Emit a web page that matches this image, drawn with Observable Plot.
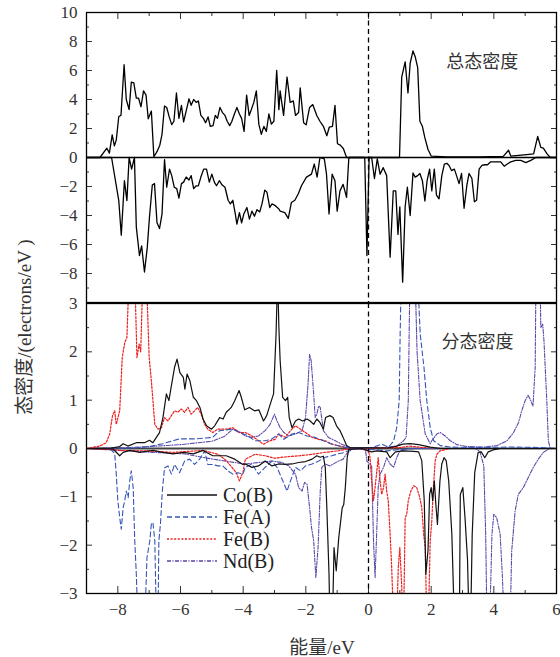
<!DOCTYPE html>
<html><head><meta charset="utf-8">
<script src="https://cdn.jsdelivr.net/npm/d3@7"></script>
<script src="https://cdn.jsdelivr.net/npm/@observablehq/plot@0.6"></script>
<style>
body{margin:0;background:#fff;}
#wrap{position:relative;width:560px;height:657px;font-family:"Liberation Serif","Noto Sans CJK SC",serif;color:#333;overflow:hidden}
#top,#bot{position:absolute;left:0}
#top{top:0}
#bot{top:290px}
#ylab{position:absolute;left:22px;top:327px;transform:translate(-50%,-50%) rotate(-90deg);white-space:nowrap;font-size:19px;color:#333;font-family:"Liberation Serif","Noto Sans CJK SC",serif}
#xlab{position:absolute;left:322px;top:645px;transform:translate(-50%,-50%);white-space:nowrap;font-size:19px;color:#333;font-family:"Liberation Serif","Noto Sans CJK SC",serif}
#legend{position:absolute;left:166px;top:484px;font-size:20px;color:#222;font-family:"Liberation Serif",serif}
.lg{display:flex;align-items:center;height:22px}
.lg svg{margin-right:5px}
svg.plot{background:transparent !important}
</style></head>
<body><div id="wrap"><div id="top"></div><div id="bot"></div><div id="ylab"></div><div id="xlab"></div><div id="legend"></div></div>
<script>
// ---- text ----
const yLabelText = "态密度/(electrons/eV )";
const xLabelText = "能量/eV";
const topNote = {text: "总态密度", x: 3.63, y: 6.55};
const botNote = {text: "分态密度", x: 3.48, y: 2.19};

// ---- ticks ----
const xTicks = [-8, -6, -4, -2, 0, 2, 4, 6];
const xMinor = [-9, -7, -5, -3, -1, 1, 3, 5];
const topYLabels = [10, 8, 6, 4, 2, 0, -2, -4, -6, -8];
const topYMajor = [-10, -8, -6, -4, -2, 0, 2, 4, 6, 8, 10];
const topYMinor = [-9, -7, -5, -3, -1, 1, 3, 5, 7, 9];
const botYLabels = [3, 2, 1, 0, -1, -2, -3];
const botYMajor = [-3, -2, -1, 0, 1, 2, 3];
const botYMinor = [-2.5, -1.5, -0.5, 0.5, 1.5, 2.5];

// ---- total DOS (energy eV, states) ----
const totUp = [[-9,0],[-8.57,0],[-8.35,0.64],[-8.27,0.3],[-8.18,1.56],[-8.11,0.8],[-8.05,1.2],[-7.97,2.83],[-7.9,2.9],[-7.8,6.4],[-7.73,4.0],[-7.64,3.3],[-7.57,5.2],[-7.49,5.15],[-7.41,4.1],[-7.34,4.1],[-7.26,3.5],[-7.18,4.6],[-7.1,4.3],[-7.03,2.67],[-6.93,3.2],[-6.85,0.05],[-6.75,0.4],[-6.66,0.85],[-6.59,1.6],[-6.51,3.55],[-6.44,3.45],[-6.36,2.8],[-6.28,2.27],[-6.21,2.5],[-6.13,4.45],[-6.05,2.7],[-5.97,3.6],[-5.9,2.45],[-5.82,3.2],[-5.73,4.05],[-5.66,3.6],[-5.58,4.0],[-5.5,3.8],[-5.43,3.9],[-5.35,2.9],[-5.27,2.7],[-5.2,2.4],[-5.12,2.8],[-5.05,2.15],[-4.96,2.2],[-4.89,2.9],[-4.82,2.7],[-4.74,3.45],[-4.66,3.1],[-4.58,2.9],[-4.51,2.5],[-4.43,2.2],[-4.36,2.5],[-4.28,3.0],[-4.2,3.45],[-4.12,3.0],[-4.05,2.7],[-3.97,1.8],[-3.89,4.3],[-3.81,2.9],[-3.74,3.3],[-3.66,3.8],[-3.58,4.6],[-3.5,2.3],[-3.42,1.6],[-3.34,2.15],[-3.26,1.8],[-3.18,3.0],[-3.1,2.3],[-3.02,2.5],[-2.93,6.0],[-2.86,3.3],[-2.82,4.6],[-2.71,2.9],[-2.6,5.55],[-2.5,3.8],[-2.4,3.9],[-2.33,2.9],[-2.23,3.1],[-2.18,4.8],[-2.07,2.4],[-1.99,2.25],[-1.88,3.45],[-1.78,3.65],[-1.65,2.9],[-1.55,2.5],[-1.44,2.15],[-1.33,1.5],[-1.25,2.1],[-1.15,2.15],[-1.07,3.6],[-0.99,0.95],[-0.9,0.85],[-0.8,0.6],[-0.7,0],[0.99,0],[1.06,5.55],[1.17,6.6],[1.26,4.45],[1.33,6.5],[1.42,7.35],[1.49,6.95],[1.57,6.2],[1.64,2.5],[1.72,2.15],[1.8,1.35],[1.9,0.55],[2.0,0.1],[2.5,0.05],[3.5,0.05],[4.3,0.08],[4.47,0.5],[4.54,0.1],[5.05,0.2],[5.27,0.25],[5.4,1.45],[5.5,0.7],[5.58,0.65],[5.7,0.25],[5.8,0],[6,0]];
const totDn = [[-9,0],[-8.2,0],[-7.97,-2.97],[-7.89,-5.36],[-7.79,-1.6],[-7.71,-2.97],[-7.64,0],[-7.56,-0.8],[-7.47,0],[-7.41,-4.8],[-7.31,-6.76],[-7.24,-6.1],[-7.15,-7.9],[-7.06,-6.2],[-6.99,-4.1],[-6.9,-1.9],[-6.83,-1.8],[-6.75,-4.5],[-6.67,-4.9],[-6.59,-3.9],[-6.51,-0.15],[-6.44,-2.05],[-6.35,-0.8],[-6.28,-1.25],[-6.2,-2.05],[-6.12,-2.15],[-6.05,-2.8],[-5.97,-1.8],[-5.9,-1.7],[-5.82,-1.35],[-5.73,-1.55],[-5.66,-1.25],[-5.58,-2.15],[-5.5,-1.95],[-5.43,-1.95],[-5.35,-1.35],[-5.26,-0.8],[-5.17,-0.8],[-5.08,-1.7],[-5.0,-1.15],[-4.92,-1.7],[-4.85,-1.95],[-4.76,-1.6],[-4.67,-1.9],[-4.58,-2.05],[-4.48,-2.95],[-4.41,-3.2],[-4.33,-2.95],[-4.25,-3.9],[-4.2,-4.6],[-4.12,-3.8],[-4.05,-4.5],[-3.98,-3.9],[-3.88,-3.45],[-3.8,-4.25],[-3.72,-3.7],[-3.64,-4.05],[-3.56,-3.6],[-3.47,-3.75],[-3.4,-3.2],[-3.31,-2.25],[-3.24,-2.4],[-3.15,-3.45],[-3.08,-3.2],[-2.99,-3.3],[-2.86,-3.55],[-2.82,-3.7],[-2.67,-3.8],[-2.56,-4.2],[-2.46,-3.1],[-2.35,-2.95],[-2.24,-2.5],[-2.14,-1.95],[-1.98,-1.35],[-1.82,-1.15],[-1.73,-0.45],[-1.64,-1.35],[-1.55,0],[-1.41,-0.1],[-1.34,-1.15],[-1.26,-3.9],[-1.16,-1.15],[-1.07,-1.6],[-1.0,-3.7],[-0.91,-2.3],[-0.81,-1.85],[-0.7,-2.75],[-0.63,-0.1],[-0.6,0],[-0.12,0],[-0.05,-6.76],[0.02,0],[0.1,0],[0.19,-1.45],[0.28,-0.1],[0.37,-1.15],[0.47,-0.7],[0.58,-1.25],[0.69,-6.87],[0.79,-2.3],[0.87,-2.3],[0.94,-5.3],[1.0,-3.4],[1.09,-8.6],[1.17,-3.4],[1.24,-2.05],[1.33,-4.0],[1.42,-1.07],[1.49,-1.35],[1.57,-1.25],[1.64,-1.1],[1.72,-1.6],[1.8,-3.0],[1.87,-1.6],[1.95,-0.8],[2.02,-2.3],[2.1,-0.8],[2.17,-2.6],[2.25,-2.85],[2.34,-1.25],[2.42,-0.45],[2.5,-0.4],[2.57,-0.55],[2.65,-0.9],[2.74,-0.8],[2.81,-1.25],[2.89,-1.8],[2.97,-1.1],[3.05,-3.5],[3.14,-1.9],[3.21,-1.1],[3.3,-1.45],[3.38,-3.05],[3.45,-2.95],[3.53,-0.8],[3.62,-0.55],[3.71,-0.5],[3.8,-0.5],[3.9,-0.3],[4.06,-0.3],[4.22,-0.3],[4.33,-0.6],[4.43,-0.45],[4.54,-0.3],[4.7,-0.2],[4.86,-0.2],[5.02,-0.35],[5.18,-0.2],[5.34,0],[6,0]];

// ---- partial DOS ----
const coUp = [[-9,0],[-8.2,0.01],[-7.94,0.04],[-7.83,0.1],[-7.68,0.05],[-7.41,0.12],[-7.15,0.12],[-6.99,0.17],[-6.88,0.12],[-6.77,0.23],[-6.67,0.33],[-6.56,0.64],[-6.45,1.13],[-6.37,0.99],[-6.29,1.3],[-6.19,1.68],[-6.11,1.85],[-6.02,1.57],[-5.91,1.47],[-5.86,1.23],[-5.79,1.54],[-5.7,1.4],[-5.59,1.06],[-5.49,0.99],[-5.38,0.85],[-5.28,0.61],[-5.17,0.47],[-5.01,0.4],[-4.91,0.47],[-4.75,0.64],[-4.64,0.61],[-4.54,0.75],[-4.38,0.85],[-4.27,0.99],[-4.13,1.2],[-4.06,1.06],[-3.95,0.8],[-3.8,0.85],[-3.64,0.78],[-3.5,0.8],[-3.35,0.57],[-3.25,0.68],[-3.1,0.99],[-3.03,1.13],[-2.95,2.37],[-2.9,3.6],[-2.86,2.5],[-2.82,1.82],[-2.74,1.06],[-2.65,0.99],[-2.58,1.06],[-2.53,0.64],[-2.44,0.43],[-2.33,0.57],[-2.23,0.61],[-2.1,0.57],[-1.96,0.61],[-1.86,0.57],[-1.75,0.5],[-1.65,0.61],[-1.55,0.54],[-1.44,0.4],[-1.37,0.64],[-1.23,0.68],[-1.13,0.64],[-1.02,0.47],[-0.91,0.37],[-0.81,0.23],[-0.7,0.06],[-0.6,0.02],[0.6,0.01],[0.9,0.05],[1.1,0.09],[1.33,0.1],[1.6,0.08],[1.97,0.03],[2.3,0],[6,0]];
const coDn = [[-9,0],[-8.15,-0.01],[-7.94,-0.15],[-7.83,-0.08],[-7.62,-0.04],[-7.3,-0.08],[-6.88,-0.04],[-6.56,-0.08],[-6.24,-0.11],[-5.91,-0.08],[-5.59,-0.11],[-5.28,-0.04],[-4.97,-0.15],[-4.54,-0.15],[-4.27,-0.22],[-4.01,-0.33],[-3.93,-0.32],[-3.72,-0.39],[-3.51,-0.36],[-3.3,-0.26],[-3.08,-0.36],[-2.87,-0.32],[-2.65,-0.33],[-2.44,-0.32],[-2.23,-0.29],[-2.01,-0.27],[-1.8,-0.22],[-1.65,-0.15],[-1.54,-0.18],[-1.44,-0.16],[-1.38,-0.39],[-1.33,-1.22],[-1.26,-2.6],[-1.23,-3.6],[-1.15,-3.6],[-1.1,-2.05],[-1.03,-2.53],[-0.95,-1.85],[-0.84,-1.23],[-0.79,-1.16],[-0.74,-0.81],[-0.68,-0.19],[-0.63,-0.02],[-0.2,0],[0,-0.05],[0.1,-0.07],[0.26,-0.05],[0.58,-0.07],[0.69,-0.19],[0.86,-0.07],[1.12,-0.05],[1.44,-0.06],[1.6,-0.07],[1.7,-0.25],[1.78,-1.08],[1.83,-2.6],[1.9,-2.1],[1.95,-0.95],[2.0,-0.81],[2.05,-1.08],[2.1,-0.67],[2.15,-1.16],[2.2,-1.57],[2.28,-0.67],[2.34,-0.32],[2.41,-0.19],[2.48,-0.25],[2.56,-0.67],[2.66,-1.77],[2.74,-3.6],[2.9,-3.6],[2.93,-0.95],[3.01,-0.81],[3.08,-1.43],[3.16,-2.3],[3.21,-3.6],[3.26,-3.6],[3.31,-1.77],[3.39,-0.5],[3.5,-0.08],[3.6,-0.07],[3.71,-0.19],[3.82,-0.07],[3.98,-0.03],[4.2,0],[6,0]];
const feAUp = [[-9,0],[-7.5,0.01],[-7,0.04],[-6.56,0.1],[-6.03,0.2],[-5.49,0.2],[-4.97,0.23],[-4.75,0.37],[-4.33,0.4],[-4.12,0.33],[-3.9,0.28],[-3.62,0.16],[-3.3,0.16],[-3.1,0.19],[-2.87,0.3],[-2.7,0.19],[-2.44,0.3],[-2.23,0.33],[-1.96,0.26],[-1.7,0.23],[-1.44,0.16],[-1.17,0.09],[-0.86,0.04],[-0.55,0],[0.1,0.02],[0.3,0.06],[0.43,0.09],[0.64,0.03],[0.8,0.15],[0.9,0.43],[0.98,0.99],[1.01,2.37],[1.06,4],[1.55,4],[1.6,3.1],[1.65,2.37],[1.77,1.68],[1.86,0.99],[1.97,0.43],[2.08,0.16],[2.29,0.06],[2.6,0.03],[3.5,0.02],[4.5,0.03],[5.5,0.02],[6,0]];
const feADn = [[-9,0],[-8.26,0],[-8.1,-0.1],[-8.05,-0.53],[-8.0,-1.08],[-7.94,-1.43],[-7.89,-1.67],[-7.83,-1.22],[-7.78,-1.08],[-7.73,-0.88],[-7.67,-1.02],[-7.62,-0.67],[-7.57,-0.46],[-7.51,-0.81],[-7.46,-1.91],[-7.41,-2.6],[-7.36,-3.6],[-7.14,-3.6],[-7.07,-2.26],[-6.98,-1.91],[-6.93,-1.56],[-6.88,-1.53],[-6.82,-1.91],[-6.77,-3.6],[-6.72,-3.6],[-6.69,-1.91],[-6.64,-1.56],[-6.58,-0.88],[-6.51,-0.4],[-6.4,-0.36],[-6.29,-0.53],[-6.19,-0.33],[-6.03,-0.5],[-5.87,-0.26],[-5.71,-0.22],[-5.55,-0.33],[-5.39,-0.22],[-5.23,-0.05],[-5.13,-0.33],[-4.97,-0.33],[-4.81,-0.36],[-4.65,-0.36],[-4.49,-0.46],[-4.33,-0.53],[-4.17,-0.5],[-4.01,-0.53],[-3.93,-0.39],[-3.72,-0.32],[-3.51,-0.53],[-3.3,-0.39],[-3.08,-0.26],[-2.92,-0.39],[-2.76,-0.63],[-2.6,-0.88],[-2.49,-0.67],[-2.33,-0.39],[-2.17,-0.46],[-2.01,-0.36],[-1.8,-0.32],[-1.59,-0.26],[-1.38,-0.18],[-1.17,-0.15],[-0.96,-0.11],[-0.75,-0.08],[-0.5,0],[0.3,-0.03],[0.6,-0.05],[1.0,-0.02],[1.5,0],[6,0]];
const feBUp = [[-9,0],[-8.58,0.05],[-8.37,0.12],[-8.26,0.3],[-8.17,0.68],[-8.1,0.78],[-8.05,0.5],[-7.94,0.78],[-7.86,1.88],[-7.78,2.19],[-7.71,2.3],[-7.64,3.6],[-7.46,3.6],[-7.39,1.88],[-7.32,2.16],[-7.27,2.0],[-7.2,3.6],[-7.09,3.6],[-7.0,1.88],[-6.93,1.4],[-6.82,0.5],[-6.72,0.4],[-6.61,0.43],[-6.51,0.64],[-6.4,0.57],[-6.29,0.68],[-6.19,0.78],[-6.08,0.75],[-5.98,0.82],[-5.87,0.75],[-5.76,0.85],[-5.66,0.71],[-5.55,0.78],[-5.45,0.85],[-5.34,0.71],[-5.23,0.5],[-5.13,0.4],[-4.97,0.33],[-4.81,0.4],[-4.54,0.4],[-4.33,0.43],[-4.12,0.33],[-3.93,0.33],[-3.72,0.26],[-3.51,0.16],[-3.35,0.09],[-3.14,0.16],[-2.98,0.19],[-2.87,0.3],[-2.65,0.23],[-2.49,0.37],[-2.33,0.47],[-2.17,0.4],[-2.01,0.33],[-1.8,0.23],[-1.59,0.19],[-1.38,0.16],[-1.17,0.09],[-0.96,0.06],[-0.75,0.02],[-0.5,0],[1.0,0.02],[1.3,0.05],[1.6,0.03],[2.0,0],[6,0]];
const feBDn = [[-9,0],[-8,-0.03],[-7.94,-0.04],[-7,-0.05],[-6.24,-0.08],[-5.28,-0.04],[-4.8,-0.12],[-4.54,-0.25],[-4.22,-0.5],[-4.12,-0.67],[-4.01,-0.5],[-3.93,-0.22],[-3.62,-0.12],[-3.3,-0.15],[-3.0,-0.2],[-2.6,-0.17],[-2.2,-0.15],[-1.8,-0.12],[-1.4,-0.08],[-1.0,-0.05],[-0.7,-0.02],[-0.3,0],[0,-0.05],[0.05,-0.19],[0.1,-0.67],[0.16,-1.08],[0.21,-0.81],[0.26,-0.5],[0.31,-0.19],[0.37,-0.67],[0.42,-0.95],[0.48,-0.81],[0.53,-0.53],[0.58,-0.88],[0.63,-1.08],[0.69,-1.77],[0.74,-2.46],[0.8,-3.6],[0.9,-3.6],[0.95,-2.46],[1.0,-2.05],[1.06,-2.85],[1.09,-3.6],[1.12,-3.6],[1.17,-1.43],[1.22,-1.36],[1.27,-1.08],[1.35,-0.88],[1.44,-0.77],[1.54,-0.81],[1.63,-1.0],[1.7,-1.22],[1.76,-1.77],[1.81,-2.05],[1.86,-3.6],[1.91,-3.6],[1.97,-1.9],[2.02,-1.5],[2.07,-0.81],[2.13,-0.25],[2.18,-0.12],[2.28,-0.05],[2.6,0],[6,0]];
const ndUp = [[-9,0],[-8,0.01],[-7,0.04],[-6,0.08],[-5,0.15],[-4.6,0.25],[-4.33,0.4],[-4.12,0.35],[-3.93,0.26],[-3.72,0.23],[-3.51,0.26],[-3.3,0.37],[-3.14,0.5],[-3.0,0.71],[-2.92,0.57],[-2.82,0.43],[-2.7,0.33],[-2.55,0.26],[-2.33,0.3],[-2.12,0.37],[-2.01,0.64],[-1.93,1.33],[-1.88,1.95],[-1.83,1.82],[-1.75,1.13],[-1.7,0.64],[-1.65,0.71],[-1.59,0.88],[-1.54,0.85],[-1.49,0.61],[-1.44,0.37],[-1.28,0.23],[-1.06,0.16],[-0.86,0.09],[-0.6,0.02],[0.5,0.02],[0.9,0.05],[1.12,0.16],[1.2,0.23],[1.27,0.99],[1.33,4],[1.47,4],[1.55,2.0],[1.65,0.99],[1.81,0.3],[1.97,0.1],[2.02,0.16],[2.18,0.3],[2.29,0.33],[2.45,0.26],[2.61,0.16],[2.82,0.08],[3.14,0.04],[3.67,0.03],[4.1,0.06],[4.42,0.16],[4.63,0.33],[4.79,0.54],[4.89,0.78],[5.0,0.99],[5.09,1.1],[5.16,1.02],[5.25,0.88],[5.32,1.68],[5.35,4],[5.46,4],[5.5,2.5],[5.56,2.57],[5.6,2.23],[5.69,0.99],[5.74,0.16],[5.8,0],[6,0]];
const ndDn = [[-9,0],[-7.94,-0.04],[-6.88,-0.08],[-5.9,-0.11],[-4.97,-0.22],[-4.27,-0.29],[-3.93,-0.32],[-3.51,-0.29],[-3.08,-0.26],[-2.76,-0.29],[-2.55,-0.36],[-2.33,-0.53],[-2.23,-0.81],[-2.12,-0.88],[-2.04,-0.7],[-1.96,-0.74],[-1.88,-1.22],[-1.82,-1.63],[-1.75,-1.91],[-1.68,-2.67],[-1.61,-2.05],[-1.54,-0.88],[-1.49,-0.39],[-1.38,-0.32],[-1.23,-0.36],[-1.12,-0.32],[-0.96,-0.26],[-0.81,-0.22],[-0.7,-0.11],[-0.5,0],[-0.1,-0.02],[-0.05,-0.26],[0.1,-0.36],[0.16,-1.91],[0.21,-2.67],[0.26,-1.77],[0.31,-0.81],[0.37,-0.53],[0.48,-0.39],[0.58,-0.19],[0.69,-0.32],[0.8,-0.39],[0.9,-0.19],[1.0,-0.05],[1.3,0],[3.39,0],[3.55,-0.05],[3.68,-0.36],[3.74,-1.77],[3.78,-3.6],[3.87,-3.6],[3.94,-1.77],[4.0,-1.36],[4.09,-1.43],[4.2,-1.77],[4.27,-2.6],[4.33,-3.6],[4.52,-3.6],[4.57,-2.12],[4.68,-1.29],[4.78,-0.95],[4.94,-0.81],[5.1,-0.6],[5.26,-0.39],[5.42,-0.22],[5.58,-0.08],[5.74,-0.02],[5.8,0],[6,0]];

// ---- series styling ----
const seriesNames = ["Co(B)", "Fe(A)", "Fe(B)", "Nd(B)"];
const seriesColors = ["#111111", "#3556b8", "#f01e1e", "#5e47a8"];
const seriesDash = [null, "5,3", "2,1.6", "4,1.5,1,1.5"];
const seriesWidth = [1.2, 1.1, 1.2, 1.1];
const seriesData = [[coUp, coDn], [feAUp, feADn], [feBUp, feBDn], [ndUp, ndDn]];

const fmt = d => d < 0 ? "\u2212" + (-d) : String(d);
const blank = () => "";
const serif = "Liberation Serif";
const font = {fontFamily: serif, fontSize: "17px", color: "#333", background: "transparent", overflow: "visible"};

function frameAxes(yLab, yMaj, yMin, showX) {
  const m = [
    Plot.axisY(yLab, {anchor: "left", tickSize: 0, tickPadding: 9, tickFormat: fmt, label: null, fontSize: 17, fontFamily: serif, color: "#333"}),
    Plot.axisY(yMaj, {anchor: "left", tickSize: 6, dx: 6, tickFormat: blank, label: null}),
    Plot.axisY(yMin, {anchor: "left", tickSize: 3, dx: 3, tickFormat: blank, label: null}),
    Plot.axisY(yMaj, {anchor: "right", tickSize: 6, dx: -6, tickFormat: blank, label: null}),
    Plot.axisY(yMin, {anchor: "right", tickSize: 3, dx: -3, tickFormat: blank, label: null})
  ];
  if (showX) {
    m.push(
      Plot.axisX(xTicks, {anchor: "bottom", tickSize: 0, tickPadding: 9, tickFormat: fmt, label: null, fontSize: 17, fontFamily: serif, color: "#333"}),
      Plot.axisX(xTicks, {anchor: "bottom", tickSize: 7, dy: -7, tickFormat: blank, label: null}),
      Plot.axisX(xMinor, {anchor: "bottom", tickSize: 3, dy: -3, tickFormat: blank, label: null})
    );
  } else {
    m.push(
      Plot.axisX(xTicks, {anchor: "top", tickSize: 6, dy: 6, tickFormat: blank, label: null}),
      Plot.axisX(xMinor, {anchor: "top", tickSize: 3, dy: 3, tickFormat: blank, label: null})
    );
  }
  return m;
}

const topPlot = Plot.plot({
  width: 560, height: 302,
  marginTop: 12, marginBottom: 0, marginLeft: 86, marginRight: 4,
  style: font,
  x: {domain: [-9, 6]},
  y: {domain: [-10, 10]},
  marks: [
    ...frameAxes(topYLabels, topYMajor, topYMinor, false),
    Plot.ruleX([0], {stroke: "#000", strokeWidth: 1.3, strokeDasharray: "5,3.5"}),
    Plot.ruleY([0], {stroke: "#000", strokeWidth: 1.6}),
    Plot.line(totUp, {x: d => d[0], y: d => d[1], stroke: "#000", strokeWidth: 1.3, clip: true}),
    Plot.line(totDn, {x: d => d[0], y: d => d[1], stroke: "#000", strokeWidth: 1.3, clip: true}),
    Plot.text([topNote], {x: "x", y: "y", text: "text", fontSize: 18, fill: "#333", fontFamily: "Noto Sans CJK SC"}),
    Plot.frame({stroke: "#000", strokeWidth: 1.3})
  ]
});
document.getElementById("top").append(topPlot);

const pdosMarks = [];
for (let i = seriesData.length - 1; i >= 0; i--) {
  for (const s of seriesData[i]) {
    pdosMarks.push(Plot.line(s, {x: d => d[0], y: d => d[1], stroke: seriesColors[i], strokeWidth: seriesWidth[i], strokeDasharray: seriesDash[i], clip: true}));
  }
}

const botPlot = Plot.plot({
  width: 560, height: 367,
  marginTop: 13, marginBottom: 64, marginLeft: 86, marginRight: 4,
  style: font,
  x: {domain: [-9, 6]},
  y: {domain: [-3, 3]},
  marks: [
    ...frameAxes(botYLabels, botYMajor, botYMinor, true),
    Plot.ruleY([0], {stroke: "#444", strokeWidth: 2}),
    Plot.ruleX([0], {stroke: "#000", strokeWidth: 1.3, strokeDasharray: "5,3.5"}),
    ...pdosMarks,
    Plot.text([botNote], {x: "x", y: "y", text: "text", fontSize: 18, fill: "#333", fontFamily: "Noto Sans CJK SC"}),
    Plot.frame({stroke: "#000", strokeWidth: 1.3})
  ]
});
document.getElementById("bot").append(botPlot);

document.getElementById("ylab").textContent = yLabelText;
document.getElementById("xlab").textContent = xLabelText;

const lg = document.getElementById("legend");
seriesNames.forEach((name, i) => {
  const row = document.createElement("div");
  row.className = "lg";
  const dash = seriesDash[i] ? ` stroke-dasharray="${seriesDash[i]}"` : "";
  row.innerHTML = `<svg width="52" height="10"><line x1="1" y1="5" x2="51" y2="5" stroke="${seriesColors[i]}" stroke-width="${seriesWidth[i] + 0.2}"${dash}/></svg><span>${name}</span>`;
  lg.append(row);
});
</script>
</body></html>
